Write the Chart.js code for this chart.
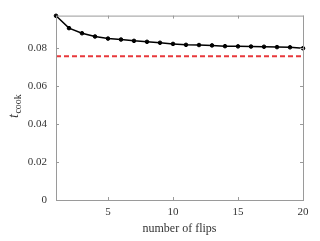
<!DOCTYPE html>
<html>
<head>
<meta charset="utf-8">
<script src="https://cdn.jsdelivr.net/npm/chart.js@4/dist/chart.umd.min.js"></script>
<style>
  html, body { margin: 0; padding: 0; background: #fff; }
  #wrap { width: 320px; height: 241px; }
</style>
</head>
<body>
<div id="wrap"><canvas id="c"></canvas></div>
<script>
// number of flips vs cooking time
const flips = [1, 2, 3, 4, 5, 6, 7, 8, 9, 10, 11, 12, 13, 14, 15, 16, 17, 18, 19, 20];
const tCook = [0.0970, 0.0905, 0.0878, 0.0861, 0.0850, 0.0845, 0.0838, 0.0833, 0.0828, 0.0822,
               0.0817, 0.0816, 0.0814, 0.0810, 0.0809, 0.0808, 0.0807, 0.0805, 0.0804, 0.0799];
const limitValue = 0.0757;
const xTicks = [5, 10, 15, 20];
const yTicks = [0, 0.02, 0.04, 0.06, 0.08];

const serif = "'Liberation Serif', 'DejaVu Serif', serif";
const axisColor = '#9a9a9a';

// draws the box and inward ticks, plus the y label with subscript
const framePlugin = {
  id: 'frame',
  afterDraw(chart) {
    const { ctx, chartArea: a, scales } = chart;
    ctx.save();
    ctx.strokeStyle = axisColor;
    ctx.lineWidth = 1;
    ctx.strokeRect(a.left + 0.5, a.top + 0.5, a.right - a.left, a.bottom - a.top);
    const len = 3;
    ctx.beginPath();
    xTicks.forEach(v => {
      const px = Math.round(scales.x.getPixelForValue(v)) + 0.5;
      ctx.moveTo(px, a.bottom); ctx.lineTo(px, a.bottom - len);
      ctx.moveTo(px, a.top); ctx.lineTo(px, a.top + len);
    });
    yTicks.forEach(v => {
      const py = Math.round(scales.y.getPixelForValue(v)) + 0.5;
      ctx.moveTo(a.left, py); ctx.lineTo(a.left + len, py);
      ctx.moveTo(a.right, py); ctx.lineTo(a.right - len, py);
    });
    ctx.stroke();

    // y axis title: t_cook
    ctx.translate(18, 118);
    ctx.rotate(-Math.PI / 2);
    ctx.fillStyle = '#333';
    ctx.textBaseline = 'alphabetic';
    ctx.textAlign = 'left';
    ctx.font = 'italic 14px ' + serif;
    const tw = ctx.measureText('t').width;
    ctx.fillText('t', 0, 0);
    ctx.font = '10px ' + serif;
    ctx.fillText('cook', tw + 0.5, 3);
    ctx.restore();
  }
};

new Chart(document.getElementById('c'), {
  type: 'line',
  data: {
    datasets: [
      {
        data: flips.map((f, i) => ({ x: f, y: tCook[i] })),
        borderColor: '#000',
        backgroundColor: '#000',
        borderWidth: 1.5,
        pointRadius: 1.8,
        pointBorderWidth: 1,
        pointHoverRadius: 1.8,
        clip: false
      },
      {
        data: [{ x: flips[0], y: limitValue }, { x: flips[flips.length - 1], y: limitValue }],
        borderColor: '#e8383b',
        borderWidth: 2,
        borderDash: [5, 3],
        pointRadius: 0
      }
    ]
  },
  options: {
    responsive: true,
    maintainAspectRatio: false,
    animation: false,
    layout: { padding: { top: 13, right: 17, left: 0, bottom: 5 } },
    plugins: { legend: { display: false }, tooltip: { enabled: false } },
    scales: {
      x: {
        type: 'linear',
        min: 1,
        max: 20,
        afterBuildTicks: s => { s.ticks = xTicks.map(v => ({ value: v })); },
        afterFit: s => { s.height = 36; },
        grid: { display: false, drawTicks: false },
        border: { display: false },
        ticks: {
          color: '#333',
          font: { family: serif, size: 11 },
          padding: 6,
          maxRotation: 0
        },
        title: {
          display: true,
          text: 'number of flips',
          color: '#333',
          font: { family: serif, size: 12 },
          padding: { top: 0, bottom: 0 }
        }
      },
      y: {
        min: 0,
        max: 0.0971,
        afterBuildTicks: s => { s.ticks = yTicks.map(v => ({ value: v })); },
        afterFit: s => { s.width = 56; },
        grid: { display: false, drawTicks: false },
        border: { display: false },
        ticks: {
          color: '#333',
          font: { family: serif, size: 11 },
          padding: 9,
          callback: v => v === 0 ? '0' : v.toFixed(2)
        }
      }
    }
  },
  plugins: [framePlugin]
});
</script>
</body>
</html>
